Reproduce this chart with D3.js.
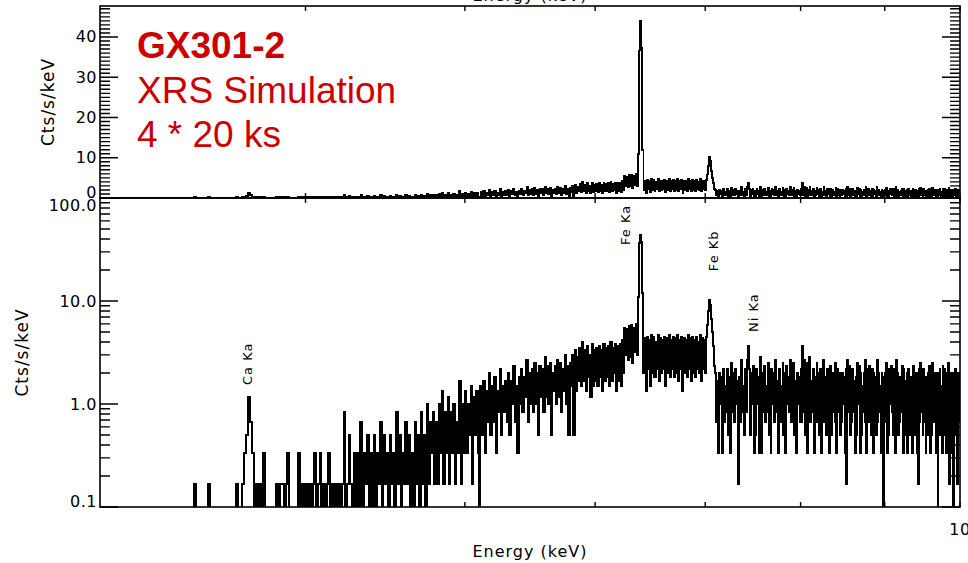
<!DOCTYPE html>
<html>
<head>
<meta charset="utf-8">
<script src="https://cdn.jsdelivr.net/npm/d3@7"></script>
<style>
  body { margin: 0; background: #fff; }
  svg { display: block; }
  .axisText { font: 16px 'DejaVu Sans', sans-serif; letter-spacing: 0.5px; fill: #000; }
  .axisTitle { font: 16px 'DejaVu Sans', sans-serif; letter-spacing: 1px; fill: #000; }
  .lineText { font: 13px 'DejaVu Sans', sans-serif; letter-spacing: 1px; fill: #000; }
  .titleText { font: 37px 'Liberation Sans', Arial, sans-serif; fill: #cc0000; }
</style>
</head>
<body>
<script>
// Spectrum: counts per 0.01 keV bin, starting at 3.00 keV
const BIN_START = 3.0;
const BIN_WIDTH = 0.01;
const CTS_PER_COUNT = 1 / 6; // cts/s/keV for a single count in a bin

const counts3 = [
  0,0,0,0,0,0,0,0,0,0,
  0,0,0,0,0,0,0,0,0,0,
  0,0,0,0,0,0,0,0,0,0,
  0,0,0,0,0,0,0,0,0,0,
  0,0,1,0,0,0,0,0,0,1,
  0,0,0,0,0,0,0,0,0,0,
  0,0,0,1,0,0,1,2,3,7,
  4,2,0,1,0,1,0,2,0,0,
  0,0,0,0,1,0,1,1,0,1,
  2,0,0,0,0,0,2,0,1,0
];
const counts4 = [
  1,0,1,0,1,2,0,1,2,0,
  1,0,1,2,0,1,0,1,0,1,
  0,1,5,0,1,3,1,0,2,0,
  2,0,4,0,2,1,3,0,2,0,
  3,0,2,1,4,0,3,1,2,0,
  3,1,2,0,5,1,3,0,2,1,
  4,1,3,0,2,0,4,1,3,0,
  5,1,3,0,6,1,4,2,5,1,
  4,1,6,2,8,1,5,2,7,1,
  5,2,6,1,4,2,10,1,6,2
];
const counts5 = [
  8,2,6,3,9,1,7,3,8,2,
  0,9,3,10,2,8,4,12,3,9,
  4,11,2,8,5,13,3,9,5,10,
  4,12,3,10,6,14,4,9,2,11,
  6,13,5,11,7,16,4,12,6,13,
  5,15,6,12,3,14,7,13,5,17,
  7,14,6,15,3,12,8,14,6,16,
  7,15,5,13,8,18,6,14,3,15,
  9,18,3,20,8,17,10,21,9,24,
  10,20,8,22,11,18,7,23,9,20
];
const counts6 = [
  10,21,9,22,11,20,8,23,10,21,
  11,22,9,24,10,21,12,23,8,22,
  10,23,9,25,12,33,18,32,16,34,
  17,35,15,33,19,36,18,66,220,264,
  224,72,12,26,8,27,13,25,9,28,
  12,27,11,24,13,28,10,26,12,25,
  13,27,9,26,12,28,11,25,13,27,
  11,26,12,28,10,25,13,27,8,26,
  12,25,11,28,13,26,10,27,12,25,
  11,27,13,24,12,28,10,26,13,25
];
const counts7 = [
  12,27,35,48,62,55,40,30,22,14,
  12,4,10,2,12,6,11,2,13,4,
  9,5,13,3,11,2,15,5,12,4,
  13,6,10,1,11,4,16,5,9,3,
  13,5,16,22,13,3,12,6,14,2,
  10,3,13,6,11,2,17,2,12,5,
  14,4,9,5,15,3,11,2,13,6,
  12,4,16,5,10,2,13,4,9,5,
  15,3,12,2,14,6,11,5,16,4,
  12,5,15,3,10,2,12,6,11,4
];
const counts8 = [
  13,4,22,5,16,3,15,2,12,5,
  17,4,10,5,13,2,11,4,15,6,
  12,3,13,2,9,5,16,4,11,3,
  13,6,10,2,14,3,12,5,9,4,
  15,2,13,5,12,3,10,4,12,6,
  11,2,13,1,16,5,14,3,9,4,
  13,5,10,2,11,3,15,6,14,2,
  12,3,9,5,12,4,16,2,13,4,
  14,5,10,3,13,2,12,6,11,3,
  16,4,12,5,9,2,12,4,0,11
];
const counts9 = [
  12,4,15,2,11,3,13,6,14,5,
  10,3,13,2,16,5,12,3,9,4,
  11,5,14,2,13,3,10,6,12,2,
  13,4,9,3,11,2,14,4,12,3,
  12,2,10,1,13,4,15,5,11,3,
  13,4,10,2,11,3,12,6,14,2,
  12,3,15,4,10,5,12,2,11,0,
  12,4,13,3,9,2,14,4,13,3,
  11,2,12,5,15,1,10,4,12,2,
  0,12,4,13,3,11,1,12,4,11
];

const energyTicks = [4, 5, 6, 7, 8, 9, 10];
const energyTickLabels = ["10"];
const linearTicks = [0, 10, 20, 30, 40];
const logTicks = [0.1, 1, 10, 100];
const logTickLabels = ["0.1", "1.0", "10.0", "100.0"];

const lineNames = ["Ca Ka", "Fe Ka", "Fe Kb", "Ni Ka"];
const lineLabelEnergy = [3.71, 6.30, 7.13, 7.54];
const lineLabelLevel = [1.53, 35, 19.5, 5.0];

const titleLines = ["GX301-2", "XRS Simulation", "4 * 20 ks"];

// Layout

const width = 968;
const height = 563;
const plotLeft = 100;
const plotRight = 960;
const topPanel = { top: 6, bottom: 198 };
const bottomPanel = { top: 198, bottom: 507 };

const counts = [].concat(counts3, counts4, counts5, counts6, counts7, counts8, counts9);
const spectrum = counts.map((c, i) => ({
  e: +(BIN_START + i * BIN_WIDTH).toFixed(2),
  v: c * CTS_PER_COUNT,
}));
spectrum.push({ e: +(BIN_START + counts.length * BIN_WIDTH).toFixed(2), v: spectrum[spectrum.length - 1].v });

const x = d3.scaleLog().domain([3, 10]).range([plotLeft, plotRight]);
const yTop = d3.scaleLinear().domain([0, 47.7]).range([topPanel.bottom, topPanel.top]);
const yBottom = d3.scaleLog().domain([0.1, 100]).range([bottomPanel.bottom, bottomPanel.top]);

const svg = d3.select("body").append("svg")
  .attr("width", width)
  .attr("height", height)
  .attr("viewBox", `0 0 ${width} ${height}`);

const defs = svg.append("defs");
[["topClip", topPanel], ["bottomClip", bottomPanel]].forEach(([id, p]) => {
  defs.append("clipPath").attr("id", id)
    .append("rect")
    .attr("x", plotLeft).attr("y", p.top)
    .attr("width", plotRight - plotLeft).attr("height", p.bottom - p.top);
});

// Spectra

const topLine = d3.line()
  .curve(d3.curveStepAfter)
  .x((d) => x(d.e))
  .y((d) => yTop(d.v));

const bottomLine = d3.line()
  .curve(d3.curveStepAfter)
  .x((d) => x(d.e))
  .y((d) => (d.v > 0 ? yBottom(d.v) : bottomPanel.bottom + 4));

svg.append("path")
  .datum(spectrum)
  .attr("clip-path", "url(#topClip)")
  .attr("fill", "none")
  .attr("stroke", "#000")
  .attr("stroke-width", 1.8)
  .attr("shape-rendering", "crispEdges")
  .attr("d", topLine);

svg.append("path")
  .datum(spectrum)
  .attr("clip-path", "url(#bottomClip)")
  .attr("fill", "none")
  .attr("stroke", "#000")
  .attr("stroke-width", 2)
  .attr("shape-rendering", "crispEdges")
  .attr("d", bottomLine);

// Frames

[topPanel, bottomPanel].forEach((p) => {
  svg.append("rect")
    .attr("x", plotLeft).attr("y", p.top)
    .attr("width", plotRight - plotLeft).attr("height", p.bottom - p.top)
    .attr("fill", "none")
    .attr("stroke", "#000")
    .attr("stroke-width", 1.6);
});

// Ticks

const ticks = svg.append("g").attr("stroke", "#000").attr("stroke-width", 1.4).attr("fill", "none");

const drawYTicks = (scale, values, len) => {
  ticks.append("g").selectAll("path")
    .data(values)
    .join("path")
    .attr("d", (v) => `M${plotLeft},${scale(v)}h${len}M${plotRight},${scale(v)}h${-len}`);
};

const topMinor = yTop.ticks(48).filter((v) => v % 10 !== 0);
drawYTicks(yTop, topMinor, 10);
drawYTicks(yTop, linearTicks, 18);

const bottomMinor = yBottom.ticks().filter((v) => !logTicks.some((t) => Math.abs(t - v) < 1e-9));
drawYTicks(yBottom, bottomMinor, 10);
drawYTicks(yBottom, logTicks, 18);

[topPanel, bottomPanel].forEach((p) => {
  ticks.append("g").selectAll("path")
    .data(energyTicks)
    .join("path")
    .attr("d", (e) => `M${x(e)},${p.bottom}v-5M${x(e)},${p.top}v5`);
});

// Tick labels

const edgeShift = (y, p) => (Math.abs(y - p.top) < 1 ? 7 : Math.abs(y - p.bottom) < 1 ? -6 : 0);

svg.append("g").selectAll("text")
  .data(linearTicks)
  .join("text")
  .attr("class", "axisText")
  .attr("x", plotLeft - 3)
  .attr("y", (v) => yTop(v) + edgeShift(yTop(v), topPanel))
  .attr("text-anchor", "end")
  .attr("dominant-baseline", "central")
  .text((v) => v);

svg.append("g").selectAll("text")
  .data(logTicks)
  .join("text")
  .attr("class", "axisText")
  .attr("x", plotLeft - 3)
  .attr("y", (v) => yBottom(v) + edgeShift(yBottom(v), bottomPanel))
  .attr("text-anchor", "end")
  .attr("dominant-baseline", "central")
  .text((v, i) => logTickLabels[i]);

svg.append("g").selectAll("text")
  .data(energyTickLabels)
  .join("text")
  .attr("class", "axisText")
  .attr("x", (d) => x(+d))
  .attr("y", 535)
  .attr("text-anchor", "middle")
  .text((d) => d);

// Axis titles

svg.append("text")
  .attr("class", "axisTitle")
  .attr("x", (plotLeft + plotRight) / 2)
  .attr("y", 557)
  .attr("text-anchor", "middle")
  .text("Energy (keV)");

svg.append("text")
  .attr("class", "axisTitle")
  .attr("x", (plotLeft + plotRight) / 2)
  .attr("y", 0.5)
  .attr("text-anchor", "middle")
  .text("Energy (keV)");

[[topPanel, 54], [bottomPanel, 28]].forEach(([p, xPos]) => {
  svg.append("text")
    .attr("class", "axisTitle")
    .attr("transform", `translate(${xPos}, ${(p.top + p.bottom) / 2}) rotate(-90)`)
    .attr("text-anchor", "middle")
    .style("font-size", "17px")
    .text("Cts/s/keV");
});

// Line labels

svg.append("g").selectAll("text")
  .data(lineNames)
  .join("text")
  .attr("class", "lineText")
  .attr("transform", (d, i) => `translate(${x(lineLabelEnergy[i])}, ${yBottom(lineLabelLevel[i])}) rotate(-90)`)
  .text((d) => d);

// Title block

svg.append("g").selectAll("text")
  .data(titleLines)
  .join("text")
  .attr("class", "titleText")
  .attr("x", 137)
  .attr("y", (d, i) => 58 + i * 44.5)
  .style("font-weight", (d, i) => (i === 0 ? "bold" : "normal"))
  .text((d) => d);
</script>
</body>
</html>
